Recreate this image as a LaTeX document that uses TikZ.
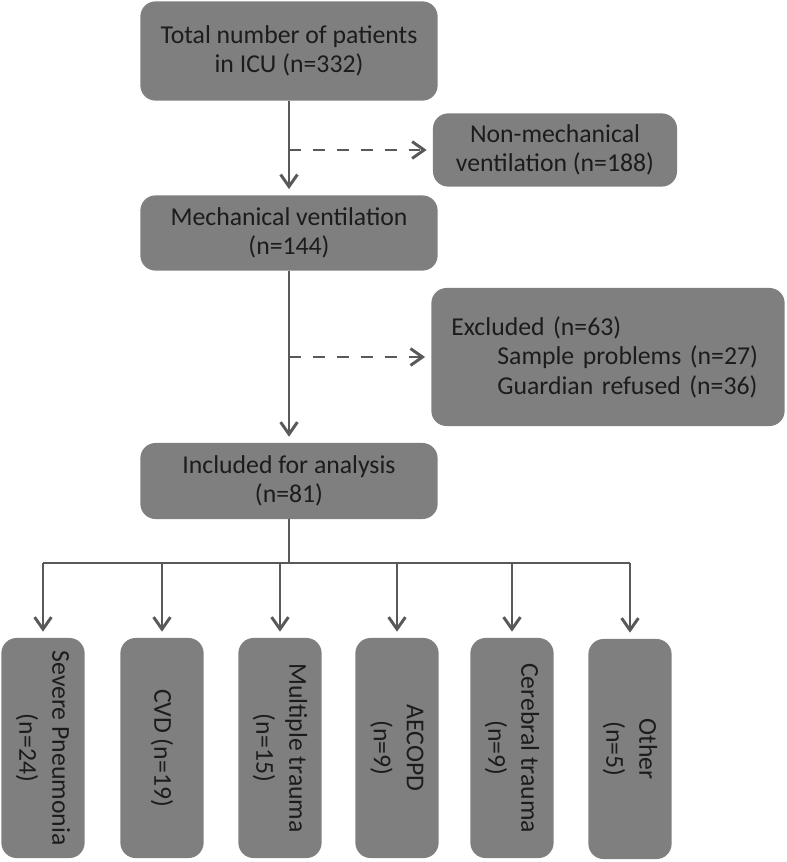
\documentclass[tikz,border=0pt]{standalone}
\usepackage{fontspec}
\setmainfont{Carlito}
\usetikzlibrary{arrows.meta}
\definecolor{boxgray}{RGB}{127,127,127}
\definecolor{linegray}{RGB}{89,89,89}
\definecolor{txtgray}{RGB}{28,28,28}

\begin{document}
\begin{tikzpicture}[x=0.025cm,y=-0.025cm,
  flowbox/.style={fill=boxgray,rounded corners=0.38cm,text=txtgray,font=\fontsize{18.3}{21}\selectfont,align=center,inner sep=0pt},
  catbox/.style={flowbox,font=\fontsize{18.3}{23.5}\selectfont,rotate=-90,minimum width=5.5cm,minimum height=2.08cm},
  conn/.style={draw=linegray,line width=2.1pt},
  arr/.style={conn,-{Straight Barb[length=0.3cm,width=0.42cm,line width=2.1pt]},shorten >=0.15cm},
  dasharr/.style={arr,dash pattern=on 8.5pt off 8.5pt}]
\useasboundingbox (0,0) rectangle (787,862);
\node[flowbox,minimum width=7.43cm,minimum height=2.48cm,name=n0] at (289,51) {Total number of patients\\in ICU (n=332)};
\node[flowbox,minimum width=6.1cm,minimum height=1.83cm,name=n1] at (555,150) {Non-mechanical\\ventilation (n=188)};
\node[flowbox,minimum width=7.43cm,minimum height=1.88cm,name=n2] at (289,233) {Mechanical ventilation\\(n=144)};
\node[flowbox,minimum width=8.83cm,minimum height=3.45cm,text width=7.83cm,align=left,name=n3] at (608,357) {Excluded (n=63)\\\hspace*{1.15cm}Sample problems (n=27)\\\hspace*{1.15cm}Guardian refused (n=36)};
\node[flowbox,minimum width=7.43cm,minimum height=1.9cm,name=n4] at (289,481) {Included for analysis\\(n=81)};
\node[catbox,name=b1] at (43,748) {Severe Pneumonia\\(n=24)};
\node[catbox,name=b2] at (162,748) {CVD (n=19)};
\node[catbox,name=b3] at (280,748) {Multiple trauma\\(n=15)};
\node[catbox,name=b4] at (397,748) {AECOPD\\(n=9)};
\node[catbox,name=b5] at (512,748) {Cerebral trauma\\(n=9)};
\node[catbox,name=b6] at (630,749) {Other\\(n=5)};
\coordinate (bar) at (289,563);
\draw[arr,name=a02] (n0) -- (n2);
\draw[dasharr,name=a01] (n0 |- n1.west) -- (n1.west);
\draw[arr,name=a24] (n2) -- (n4);
\draw[dasharr,name=a23] (n2 |- n3.west) -- (n3.west);
\draw[conn] (n4.south) -- (bar);
\draw[conn] (b1 |- bar) -- (b6 |- bar);
\draw[arr,name=a41] (b1 |- bar) -- (b1);
\draw[arr,name=a42] (b2 |- bar) -- (b2);
\draw[arr,name=a43] (b3 |- bar) -- (b3);
\draw[arr,name=a44] (b4 |- bar) -- (b4);
\draw[arr,name=a45] (b5 |- bar) -- (b5);
\draw[arr,name=a46] (b6 |- bar) -- (b6);
\end{tikzpicture}
\end{document}
